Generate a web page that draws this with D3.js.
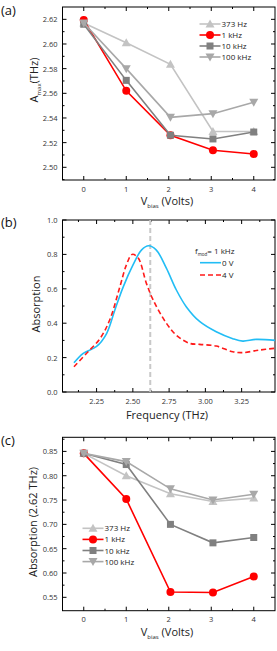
<!DOCTYPE html>
<html><head><meta charset="utf-8">
<script src="https://cdn.jsdelivr.net/npm/d3@7"></script>
<style>body{margin:0;background:#fff}svg{display:block}text{font-family:"Open Sans",sans-serif}</style>
</head><body><svg id="c" width="277" height="651"></svg>
<script>
// ---------- data ----------
const vbias = [0, 1, 2.04, 3.04, 4];
const seriesNames = ["373 Hz", "1 kHz", "10 kHz", "100 kHz"];
// panel (a): A_max (THz)
const amax373 = [2.617, 2.601, 2.5835, 2.529, 2.529];
const amax1k = [2.6195, 2.562, 2.526, 2.5138, 2.5108];
const amax10k = [2.616, 2.5705, 2.526, 2.523, 2.5286];
const amax100k = [2.617, 2.580, 2.5405, 2.5435, 2.5527];
// panel (c): absorption at 2.62 THz
const abs373 = [0.846, 0.800, 0.763, 0.747, 0.754];
const abs1k = [0.846, 0.752, 0.561, 0.560, 0.593];
const abs10k = [0.846, 0.823, 0.700, 0.662, 0.673];
const abs100k = [0.846, 0.829, 0.773, 0.750, 0.762];
// panel (b): absorption spectra
const freq0V = [2.094,2.158,2.25,2.319,2.376,2.433,2.502,2.559,2.609,2.662,2.731,2.80,2.868,2.96,3.075,3.189,3.258,3.35,3.48];
const absorb0V = [0.17,0.225,0.265,0.34,0.477,0.61,0.74,0.825,0.85,0.825,0.72,0.593,0.496,0.41,0.35,0.31,0.296,0.306,0.30];
const freq4V = [2.094,2.181,2.273,2.341,2.41,2.456,2.495,2.536,2.594,2.64,2.731,2.80,2.891,2.96,3.075,3.189,3.258,3.373,3.48];
const absorb4V = [0.147,0.225,0.31,0.42,0.61,0.74,0.80,0.78,0.63,0.535,0.40,0.33,0.283,0.277,0.267,0.234,0.229,0.244,0.254];
const markerFreq = 2.62;
const vTicks = [0, 1, 2, 3, 4];
const aTicks = [2.50, 2.52, 2.54, 2.56, 2.58, 2.60, 2.62];
const fTicks = [2.25, 2.50, 2.75, 3.00, 3.25];
const bTicks = [0.0, 0.2, 0.4, 0.6, 0.8, 1.0];
const cTicks = [0.55, 0.60, 0.65, 0.70, 0.75, 0.80, 0.85];

// ---------- styles ----------
const colors = ["#c3c3c3", "#ff0000", "#808080", "#a8a8a8"];
const shapes = ["tri", "circle", "square", "tridown"];
const svg = d3.select("#c");
const tickCol = "#333";

function frame(g, x, y, xt, yt, xminor, yminor, xfmt, yfmt) {
  const [x0, x1] = x.range(), [y0, y1] = y.range();
  g.append("rect").attr("x", x0).attr("y", y1).attr("width", x1 - x0).attr("height", y0 - y1)
    .attr("fill", "none").attr("stroke", "#000").attr("stroke-width", 1);
  const tk = (v, len, isX) => {
    if (isX) {
      const px = x(v);
      g.append("line").attr("x1", px).attr("x2", px).attr("y1", y0).attr("y2", y0 - len).attr("stroke", "#000");
      g.append("line").attr("x1", px).attr("x2", px).attr("y1", y1).attr("y2", y1 + len).attr("stroke", "#000");
    } else {
      const py = y(v);
      g.append("line").attr("y1", py).attr("y2", py).attr("x1", x0).attr("x2", x0 + len).attr("stroke", "#000");
      g.append("line").attr("y1", py).attr("y2", py).attr("x1", x1).attr("x2", x1 - len).attr("stroke", "#000");
    }
  };
  xt.forEach(v => { tk(v, 4, true);
    g.append("text").attr("x", x(v)).attr("y", y0 + 11.5).attr("text-anchor", "middle")
      .attr("font-size", 7.5).attr("fill", tickCol).text(xfmt(v)); });
  xminor.forEach(v => tk(v, 2, true));
  yt.forEach(v => { tk(v, 4, false);
    g.append("text").attr("x", x0 - 5).attr("y", y(v) + 3).attr("text-anchor", "end")
      .attr("font-size", 7.5).attr("fill", tickCol).text(yfmt(v)); });
  yminor.forEach(v => tk(v, 2, false));
}

function marker(g, shape, cx, cy, col) {
  if (shape === "circle") g.append("circle").attr("cx", cx).attr("cy", cy).attr("r", 4).attr("fill", col);
  else if (shape === "square") g.append("rect").attr("x", cx - 3.5).attr("y", cy - 3.5).attr("width", 7).attr("height", 7).attr("fill", col);
  else {
    const s = shape === "tri" ? 1 : -1;
    g.append("path").attr("d", `M${cx},${cy - 4.5 * s}L${cx + 4.5},${cy + 3.5 * s}L${cx - 4.5},${cy + 3.5 * s}Z`).attr("fill", col);
  }
}

function seriesPanel(x, y, data) {
  const g = svg.append("g");
  const line = d3.line().x((d, i) => x(vbias[i])).y(d => y(d));
  data.forEach((arr, k) => {
    g.append("path").attr("d", line(arr)).attr("fill", "none").attr("stroke", colors[k]).attr("stroke-width", 1.6);
    arr.forEach((v, i) => marker(g, shapes[k], x(vbias[i]), y(v), colors[k]));
  });
  return g;
}
function legend(lx, ly, dy) {
  const g = svg.append("g");
  seriesNames.forEach((n, k) => {
    const yy = ly + k * dy;
    g.append("line").attr("x1", lx).attr("x2", lx + 21).attr("y1", yy).attr("y2", yy).attr("stroke", colors[k]).attr("stroke-width", 1.6);
    marker(g, shapes[k], lx + 10.5, yy, colors[k]);
    g.append("text").attr("x", lx + 22).attr("y", yy + 3).attr("font-size", 8).attr("fill", "#222").text(n);
  });
}
function vbiasTitle(cx, y) {
  const t = svg.append("text").attr("x", cx).attr("y", y).attr("text-anchor", "middle").attr("font-size", 11).attr("fill", "#222");
  t.append("tspan").text("V");
  t.append("tspan").attr("font-size", 6).attr("dy", 3).text("bias");
  t.append("tspan").attr("dy", -3).text(" (Volts)");
}
function panelLabel(txt, y) {
  svg.append("text").attr("x", 1).attr("y", y).attr("font-size", 13).attr("fill", "#111").text(txt);
}
const f2 = d3.format(".2f"), f1 = d3.format(".1f"), fint = d3.format("d");
const halfSteps = [-0.5, 0.5, 1.5, 2.5, 3.5, 4.5];

// ---------- panel (a) ----------
{
  const x = d3.scaleLinear().domain([-0.5, 4.5]).range([62.5, 275]);
  const y = d3.scaleLinear().domain([2.4897, 2.63]).range([180, 7]);
  const g = svg.append("g");
  frame(g, x, y, vTicks, aTicks, halfSteps.filter(v => v > -0.5 && v < 4.5),
    d3.range(2.49, 2.63, 0.02).map(v => +v.toFixed(2)).filter(v => v > 2.4897), fint, f2);
  seriesPanel(x, y, [amax373, amax1k, amax10k, amax100k]);
  legend(199.5, 24, 11);
  vbiasTitle(167, 205);
  const t = svg.append("text").attr("transform", "translate(38,80) rotate(-90)").attr("text-anchor", "middle").attr("font-size", 11).attr("fill", "#222");
  t.append("tspan").text("A");
  t.append("tspan").attr("font-size", 6).attr("dy", 3).text("max");
  t.append("tspan").attr("dy", -3).text("(THz)");
  panelLabel("(a)", 15);
}

// ---------- panel (b) ----------
{
  const x = d3.scaleLinear().domain([2.015, 3.48]).range([62.5, 275]);
  const y = d3.scaleLinear().domain([0, 1]).range([392, 220]);
  const g = svg.append("g");
  frame(g, x, y, fTicks, bTicks, [2.125, 2.375, 2.625, 2.875, 3.125, 3.375], [0.1, 0.3, 0.5, 0.7, 0.9], f2, f1);
  g.append("line").attr("x1", x(markerFreq)).attr("x2", x(markerFreq)).attr("y1", 220).attr("y2", 392)
    .attr("stroke", "#c8c8c8").attr("stroke-width", 2).attr("stroke-dasharray", "5,3");
  const l0 = d3.line().curve(d3.curveCatmullRom.alpha(0.5)).x(d => x(d[0])).y(d => y(d[1]));
  g.append("path").attr("d", l0(d3.zip(freq0V, absorb0V))).attr("fill", "none").attr("stroke", "#22bdf5").attr("stroke-width", 1.6);
  g.append("path").attr("d", l0(d3.zip(freq4V, absorb4V))).attr("fill", "none").attr("stroke", "#ff1a1a").attr("stroke-width", 1.6).attr("stroke-dasharray", "5,3");
  const lt = svg.append("text").attr("x", 195).attr("y", 254).attr("font-size", 8).attr("fill", "#222");
  lt.append("tspan").text("f");
  lt.append("tspan").attr("font-size", 4.5).attr("dy", 2).text("mod");
  lt.append("tspan").attr("dy", -2).text("= 1 kHz");
  svg.append("line").attr("x1", 200).attr("x2", 221).attr("y1", 262.7).attr("y2", 262.7).attr("stroke", "#22bdf5").attr("stroke-width", 1.6);
  svg.append("text").attr("x", 222).attr("y", 265.7).attr("font-size", 8).attr("fill", "#222").text("0 V");
  svg.append("line").attr("x1", 200).attr("x2", 221).attr("y1", 275).attr("y2", 275).attr("stroke", "#ff1a1a").attr("stroke-width", 1.6).attr("stroke-dasharray", "5,3");
  svg.append("text").attr("x", 222).attr("y", 278).attr("font-size", 8).attr("fill", "#222").text("4 V");
  svg.append("text").attr("x", 167).attr("y", 419).attr("text-anchor", "middle").attr("font-size", 11).attr("fill", "#222").text("Frequency (THz)");
  svg.append("text").attr("transform", "translate(40,304) rotate(-90)").attr("text-anchor", "middle").attr("font-size", 11).attr("fill", "#222").text("Absorption");
  panelLabel("(b)", 227);
}

// ---------- panel (c) ----------
{
  const x = d3.scaleLinear().domain([-0.5, 4.5]).range([62.5, 275]);
  const y = d3.scaleLinear().domain([0.5225, 0.879]).range([610.7, 437.3]);
  const g = svg.append("g");
  frame(g, x, y, vTicks, cTicks, halfSteps.filter(v => v > -0.5 && v < 4.5),
    [0.575, 0.625, 0.675, 0.725, 0.775, 0.825, 0.875], fint, f2);
  seriesPanel(x, y, [abs373, abs1k, abs10k, abs100k]);
  legend(82.5, 528.3, 11.1);
  vbiasTitle(167, 636);
  svg.append("text").attr("transform", "translate(37,522) rotate(-90)").attr("text-anchor", "middle").attr("font-size", 11).attr("fill", "#222").text("Absorption (2.62 THz)");
  panelLabel("(c)", 445);
}
</script></body></html>
